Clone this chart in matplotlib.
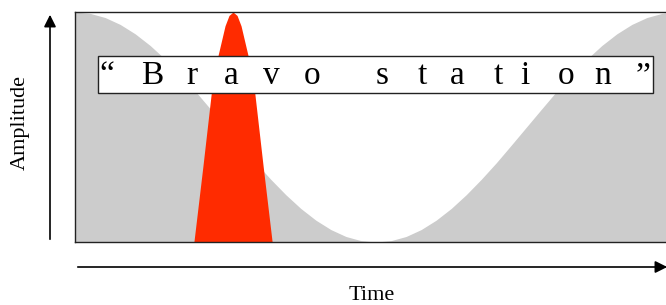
import matplotlib
matplotlib.use("Agg")
import matplotlib.pyplot as plt
from matplotlib.patches import Rectangle, FancyArrowPatch

# ---------
# > Data <
# ---------
# background wave (gray), normalised time / amplitude
wave_time = [i / 40 for i in range(41)]
wave_amp = [1.0, 0.994, 0.976, 0.946, 0.905, 0.854, 0.794, 0.727, 0.655, 0.578,
            0.5, 0.422, 0.345, 0.273, 0.206, 0.146, 0.095, 0.054, 0.024, 0.006,
            0.0,
            0.006, 0.024, 0.054, 0.095, 0.146, 0.206, 0.273, 0.345, 0.422,
            0.5, 0.578, 0.655, 0.727, 0.794, 0.854, 0.905, 0.946, 0.976, 0.994,
            1.0]

# narrow pulse (red)
pulse_time = [0.1975, 0.2125, 0.2265, 0.2375, 0.2492, 0.2558, 0.2625,
              0.2692, 0.2758, 0.2875, 0.2985, 0.3125, 0.3275]
pulse_amp = [0.0, 0.33, 0.65, 0.81, 0.94, 0.985, 1.0,
             0.985, 0.94, 0.81, 0.65, 0.33, 0.0]

banner_chars = ["\u201c", "B", "r", "a", "v", "o", "s", "t", "a", "t", "i", "o", "n", "\u201d"]
x_label = "Time"
y_label = "Amplitude"

# ----------
# > Figure <
# ----------
W, H = 666, 305
fig = plt.figure(figsize=(W / 100, H / 100), dpi=100)
serif = ["Liberation Serif", "DejaVu Serif"]


def fx(px):
    return px / W


def fy(py):
    # py measured from top of the image
    return (H - py) / H


ax = fig.add_axes([fx(75), fy(242), 602 / W, 230 / H])
ax.set_xlim(0, 1)
ax.set_ylim(0, 1)
ax.fill_between(wave_time, wave_amp, 0, color="#cccccc", lw=0, zorder=1)
ax.fill_between(pulse_time, pulse_amp, 0, color="#ff2b00", lw=0, zorder=2)
ax.set_xticks([])
ax.set_yticks([])
for side in ["top", "bottom", "left", "right"]:
    ax.spines[side].set_color("#222222")
    ax.spines[side].set_linewidth(1.0)
    ax.spines[side].set_zorder(5)

# banner box on top of the pulse
box = Rectangle((fx(98), fy(93)), fx(653) - fx(98), fy(56) - fy(93),
                transform=fig.transFigure, facecolor="white",
                edgecolor="#222222", lw=1.0, zorder=10)
fig.add_artist(box)

char_x = [107, 152, 192, 231, 271, 312, 382, 422, 457, 498, 525, 566, 603, 643]
for ch, cx in zip(banner_chars, char_x):
    fig.text(fx(cx), fy(84), ch, ha="center", va="baseline", fontsize=24,
             family=serif, color="black", zorder=11)

# axis arrows
v_arrow = FancyArrowPatch((fx(50), fy(242)), (fx(50), fy(12)),
                          transform=fig.transFigure, arrowstyle="-|>",
                          mutation_scale=18, lw=1.2, color="black")
h_arrow = FancyArrowPatch((fx(75), fy(267)), (fx(670), fy(267)),
                          transform=fig.transFigure, arrowstyle="-|>",
                          mutation_scale=18, lw=1.2, color="black")
fig.add_artist(v_arrow)
fig.add_artist(h_arrow)

fig.text(fx(372), fy(300), x_label, ha="center", va="baseline",
         fontsize=16, family=serif)
fig.text(fx(20), fy(123), y_label, ha="center", va="center",
         rotation=90, fontsize=16, family=serif)

fig.savefig("out.png", dpi=100)
